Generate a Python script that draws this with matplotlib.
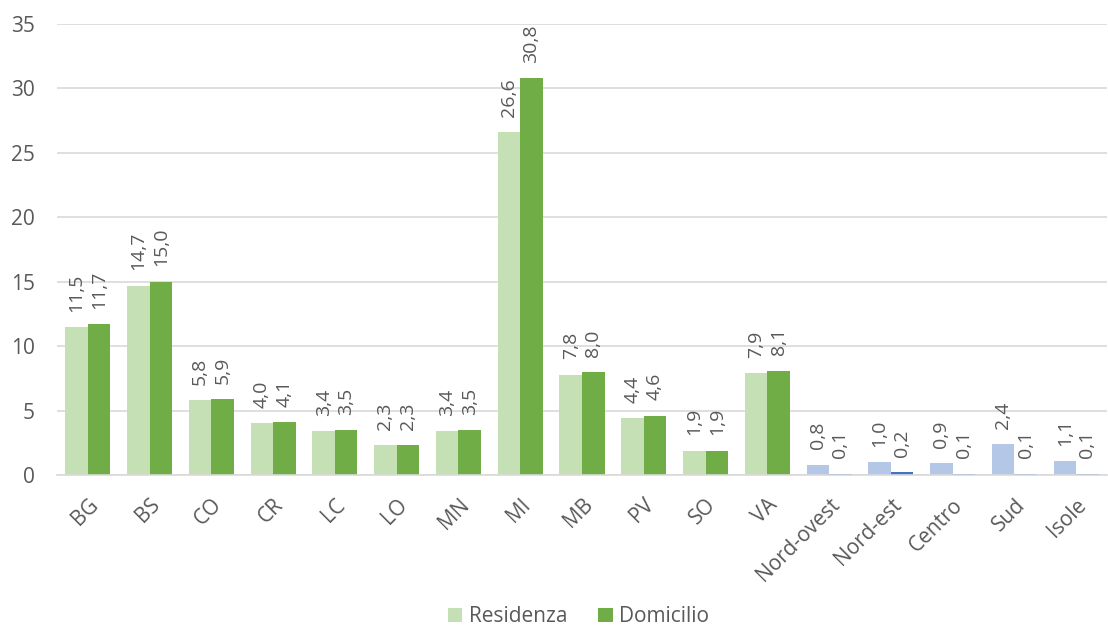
import numpy as np
import matplotlib.pyplot as plt

plt.rcParams['font.family'] = ['Open Sans', 'DejaVu Sans']

# Quote per provincia lombarda e per ripartizione geografica
categorie = ['BG', 'BS', 'CO', 'CR', 'LC', 'LO', 'MN', 'MI', 'MB', 'PV', 'SO', 'VA',
             'Nord-ovest', 'Nord-est', 'Centro', 'Sud', 'Isole']
residenza = [11.5, 14.7, 5.8, 4.0, 3.4, 2.3, 3.4, 26.6, 7.8, 4.4, 1.9, 7.9,
             0.8, 1.0, 0.9, 2.4, 1.1]
domicilio = [11.7, 15.0, 5.9, 4.1, 3.5, 2.3, 3.5, 30.8, 8.0, 4.6, 1.9, 8.1,
             0.1, 0.2, 0.1, 0.1, 0.1]
n_province = 12

TEXT_COLOR = '#595959'
GRID_COLOR = '#D9D9D9'
VERDE_CHIARO = '#C5E0B4'
VERDE = '#70AD47'
BLU_CHIARO = '#B4C7E7'
BLU = '#4472C4'

fig = plt.figure(figsize=(11.08, 6.32), dpi=100)
ax = fig.add_axes([0.0514, 0.2484, 0.9477, 0.7136])

x = np.arange(len(categorie))
w = 0.365
col_res = [VERDE_CHIARO if i < n_province else BLU_CHIARO for i in range(len(categorie))]
col_dom = [VERDE if i < n_province else BLU for i in range(len(categorie))]

b1 = ax.bar(x - w / 2, residenza, w, color=col_res, label='Residenza', zorder=2)
b2 = ax.bar(x + w / 2, domicilio, w, color=col_dom, label='Domicilio', zorder=2)

# etichette dei valori, ruotate sopra ogni barra
for bars, vals in [(b1, residenza), (b2, domicilio)]:
    for rect, v in zip(bars, vals):
        ax.annotate(f'{v:.1f}'.replace('.', ','),
                    (rect.get_x() + rect.get_width() / 2, rect.get_height()),
                    xytext=(0, 11), textcoords='offset points',
                    rotation=90, ha='center', va='bottom',
                    fontsize=14, color=TEXT_COLOR)

ax.set_xlim(-0.5, len(categorie) - 0.5)
ax.set_ylim(0, 35)
ax.set_yticks(range(0, 36, 5))
ax.yaxis.grid(True, color=GRID_COLOR, linewidth=1.2, zorder=0)
ax.set_axisbelow(True)
for s in ['top', 'right', 'left']:
    ax.spines[s].set_visible(False)
ax.spines['bottom'].set_color(GRID_COLOR)
ax.spines['bottom'].set_linewidth(1.2)
ax.tick_params(axis='both', length=0, colors=TEXT_COLOR, labelsize=15)
ax.tick_params(axis='y', pad=16)
ax.set_xticks(x)
ax.set_xticklabels(categorie, rotation=45, ha='right', rotation_mode='anchor')
ax.tick_params(axis='x', pad=14)

fig.legend(handles=[b1[0], b2[0]], labels=['Residenza', 'Domicilio'],
           loc='lower center', bbox_to_anchor=(0.522, -0.022), ncol=2,
           frameon=False, fontsize=15, labelcolor=TEXT_COLOR,
           handlelength=0.7, handleheight=0.7, handletextpad=0.3, columnspacing=1.5)

fig.savefig('out.png', dpi=100)
